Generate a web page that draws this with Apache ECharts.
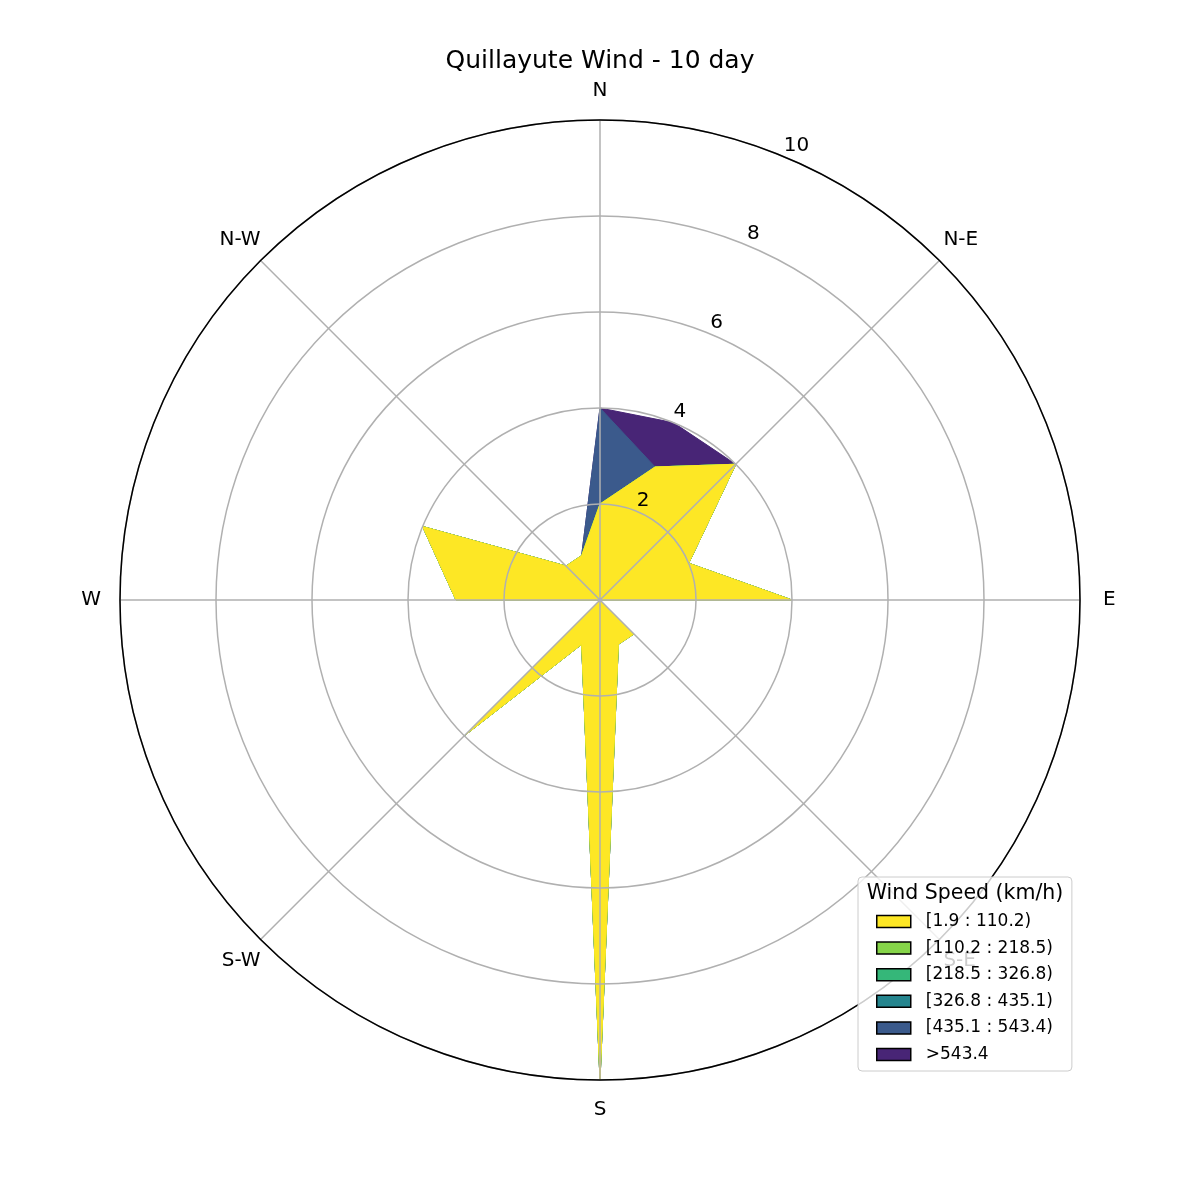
<!DOCTYPE html>
<html>
<head>
<meta charset="utf-8">
<script src="https://cdn.jsdelivr.net/npm/echarts@6/dist/echarts.min.js"></script>
<style>
html,body{margin:0;padding:0;background:#ffffff;}
#chart{width:1200px;height:1200px;}
</style>
</head>
<body>
<div id="chart"></div>
<script>
// ---- data ----
const DIRECTION_ANGLES = [0, 22.5, 45, 67.5, 90, 112.5, 135, 157.5, 180, 202.5, 225, 247.5, 270, 292.5, 315, 337.5];
const COMPASS_LABELS = ['N', 'N-E', 'E', 'S-E', 'S', 'S-W', 'W', 'N-W'];
const RADIUS_TICKS = [2, 4, 6, 8, 10];
const BIN_LABELS = ['[1.9 : 110.2)', '[110.2 : 218.5)', '[218.5 : 326.8)', '[326.8 : 435.1)', '[435.1 : 543.4)', '>543.4'];
const BIN_COLORS = ['#fde725', '#86d549', '#35b779', '#25858e', '#3b5a8c', '#482576'];
//            N  NNE NE ENE E ESE SE SSE S  SSW SW WSW W WNW NW NNW
const bin1 = [2, 3, 4, 2, 4, 0, 1, 1, 10, 1, 4, 0, 3, 4, 1, 1];
const bin2 = [0, 0, 0, 0, 0, 0, 0, 0, 0, 0, 0, 0, 0, 0, 0, 0];
const bin3 = [0, 0, 0, 0, 0, 0, 0, 0, 0, 0, 0, 0, 0, 0, 0, 0];
const bin4 = [0, 0, 0, 0, 0, 0, 0, 0, 0, 0, 0, 0, 0, 0, 0, 0];
const bin5 = [2, 0, 0, 0, 0, 0, 0, 0, 0, 0, 0, 0, 0, 0, 0, 0];
const bin6 = [0, 1, 0, 0, 0, 0, 0, 0, 0, 0, 0, 0, 0, 0, 0, 0];
const BINS = [bin1, bin2, bin3, bin4, bin5, bin6];

const FONT = 'DejaVu Sans';

// cumulative (contourf style: each band filled from 0 to the cumulative total, first band on top)
let running = DIRECTION_ANGLES.map(() => 0);
const series = BINS.map((bin, i) => {
  running = running.map((v, k) => v + bin[k]);
  const pts = DIRECTION_ANGLES.map((a, k) => [running[k], a]);
  pts.push([running[0], 360]);
  return {
    name: BIN_LABELS[i],
    type: 'line',
    coordinateSystem: 'polar',
    polarIndex: 0,
    data: pts,
    showSymbol: false,
    symbol: 'none',
    smooth: false,
    clip: false,
    z: 8 - i,
    color: BIN_COLORS[i],
    lineStyle: { color: BIN_COLORS[i], width: 1 },
    areaStyle: { color: BIN_COLORS[i], opacity: 1 },
    itemStyle: { color: BIN_COLORS[i] },
    emphasis: { disabled: true }
  };
});

// rich-text key for each compass label (pads the label so it sits centred off the rim)
const LABEL_KEYS = ['t', 'dtr', 'r', 'dbr', 'b', 'db', 'l', 'dt'];
const lblBase = { fontFamily: FONT, fontSize: 20, color: '#000', lineHeight: 20 };

const chart = echarts.init(document.getElementById('chart'), null, { renderer: 'canvas' });
chart.setOption({
  animation: false,
  backgroundColor: '#ffffff',
  textStyle: { fontFamily: FONT },
  title: {
    text: 'Quillayute Wind - 10 day',
    left: 'center',
    top: 43,
    textStyle: { fontFamily: FONT, fontSize: 25, fontWeight: 'normal', color: '#000', lineHeight: 26 }
  },
  polar: [
    { center: [600, 600], radius: 480 },
    { center: [600, 600], radius: 480 }
  ],
  angleAxis: [
    {
      polarIndex: 0,
      type: 'value',
      min: 0,
      max: 360,
      interval: 45,
      startAngle: 90,
      clockwise: true,
      z: 11,
      axisLine: { show: true, lineStyle: { color: '#000', width: 1.5 } },
      axisTick: { show: false },
      splitLine: { show: true, lineStyle: { color: '#b0b0b0', width: 1.5 } },
      axisLabel: {
        show: true,
        margin: 0,
        fontFamily: FONT,
        fontSize: 20,
        color: '#000',
        formatter: function (v) {
          const idx = Math.round(v / 45);
          if (idx >= COMPASS_LABELS.length) return '';
          return '{' + LABEL_KEYS[idx] + '|' + COMPASS_LABELS[idx] + '}';
        },
        rich: {
          t: Object.assign({ padding: [0, 0, 39, 0] }, lblBase),
          b: Object.assign({ padding: [40, 0, 0, 0] }, lblBase),
          r: Object.assign({ padding: [0, 0, 0, 23] }, lblBase),
          l: Object.assign({ padding: [0, 19, 0, 0] }, lblBase),
          dt: Object.assign({ padding: [0, 0, 22, 0] }, lblBase),
          db: Object.assign({ padding: [23, 0, 0, 0] }, lblBase),
          dtr: Object.assign({ padding: [0, 0, 22, 4] }, lblBase),
          dbr: Object.assign({ padding: [23, 0, 0, 4] }, lblBase)
        }
      }
    },
    {
      polarIndex: 1,
      type: 'value',
      min: 0,
      max: 360,
      startAngle: 67.5,
      clockwise: true,
      show: false
    }
  ],
  radiusAxis: [
    {
      polarIndex: 0,
      type: 'value',
      min: 0,
      max: 10,
      interval: 2,
      z: 10,
      axisLine: { show: false },
      axisTick: { show: false },
      axisLabel: { show: false },
      splitLine: { show: true, lineStyle: { color: '#b0b0b0', width: 1.5 } }
    },
    {
      polarIndex: 1,
      type: 'value',
      min: 0,
      max: 10,
      interval: 2,
      z: 12,
      axisLine: { show: false },
      axisTick: { show: false },
      splitLine: { show: false },
      axisLabel: {
        show: true,
        margin: 0,
        align: 'left',
        verticalAlign: 'bottom',
        padding: [0, 0, 1, 0],
        fontFamily: FONT,
        fontSize: 20,
        color: '#000',
        formatter: function (v) {
          return RADIUS_TICKS.indexOf(v) >= 0 ? String(v) : '';
        }
      }
    }
  ],
  legend: {
    show: true,
    data: BIN_LABELS,
    orient: 'vertical',
    left: 858,
    top: 877,
    padding: [36, 19, 8, 18],
    itemWidth: 34,
    itemHeight: 12,
    itemGap: 9.6,
    icon: 'rect',
    selectedMode: false,
    z: 20,
    backgroundColor: 'rgba(255,255,255,0.8)',
    borderColor: '#cccccc',
    borderWidth: 1,
    borderRadius: 4,
    itemStyle: { borderColor: '#000', borderWidth: 1.5 },
    textStyle: { fontFamily: FONT, fontSize: 17, lineHeight: 17, color: '#000', padding: [0, 0, 0, 10] }
  },
  graphic: [
    {
      type: 'text',
      z: 30,
      x: 965,
      y: 894,
      style: {
        text: 'Wind Speed (km/h)',
        fontFamily: FONT,
        fontSize: 20.5,
        fill: '#000',
        align: 'center',
        verticalAlign: 'middle'
      }
    }
  ],
  series: series
});
</script>
</body>
</html>
